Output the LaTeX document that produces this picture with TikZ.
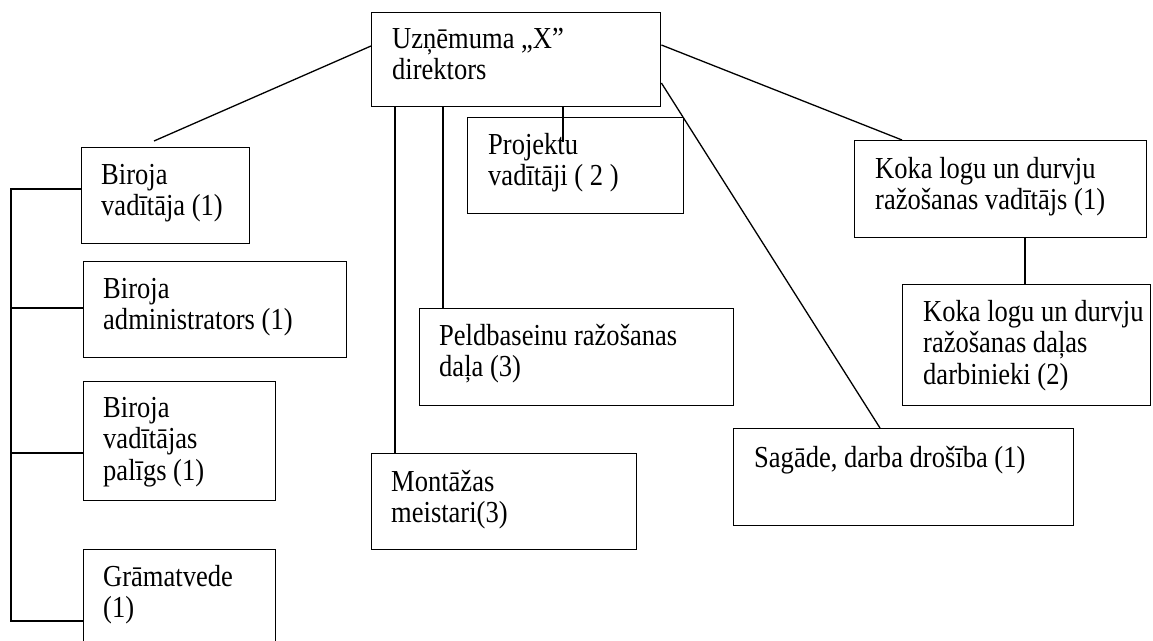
\documentclass[tikz,border=0pt]{standalone}
\usepackage{fontspec}
\setmainfont{Liberation Serif}[FakeStretch=0.87]
\usetikzlibrary{calc}
\begin{document}
\begin{tikzpicture}[x=1pt,y=-1pt,
  box/.style={draw, line width=1.4pt, rectangle, inner sep=0pt, anchor=north west},
  lbl/.style={anchor=north west, align=left, inner sep=0pt, font=\fontsize{30.5}{31.5}\selectfont},
  link/.style={line width=1.3pt}]
\clip (0,0) rectangle (1153,640);
\fill[white] (0,0) rectangle (1153,640);
% boxes
\node[box, minimum width=289, minimum height=94] (dir) at (371,12) {};
\node[box, minimum width=168, minimum height=96] (bv) at (81,147) {};
\node[box, minimum width=263, minimum height=96] (ba) at (83,261) {};
\node[box, minimum width=192, minimum height=119] (bp) at (83,381) {};
\node[box, minimum width=192, minimum height=110] (gr) at (83,549) {};
\node[box, minimum width=216, minimum height=96] (pv) at (467,117) {};
\node[box, minimum width=314, minimum height=97] (pb) at (419,308) {};
\node[box, minimum width=265, minimum height=96] (mm) at (371,453) {};
\node[box, minimum width=292, minimum height=97] (kv) at (854,140) {};
\node[box, minimum width=248, minimum height=121] (kd) at (902,284) {};
\node[box, minimum width=340, minimum height=97] (sd) at (733,428) {};
% texts
\node[lbl] (dirT) at ($(dir.north west)+(21,16)$) {Uzņēmuma „X”\\direktors};
\node[lbl] (bvT) at ($(bv.north west)+(20,17)$) {Biroja\\vadītāja (1)};
\node[lbl] (baT) at ($(ba.north west)+(20,17)$) {Biroja\\administrators (1)};
\node[lbl] (bpT) at ($(bp.north west)+(20,16)$) {Biroja\\vadītājas\\palīgs (1)};
\node[lbl] (grT) at ($(gr.north west)+(20,16)$) {Grāmatvede\\(1)};
\node[lbl] (pvT) at ($(pv.north west)+(21,16)$) {Projektu\\vadītāji ( 2 )};
\node[lbl] (pbT) at ($(pb.north west)+(20,16)$) {Peldbaseinu ražošanas\\daļa (3)};
\node[lbl] (mmT) at ($(mm.north west)+(20,17)$) {Montāžas\\meistari(3)};
\node[lbl] (kvT) at ($(kv.north west)+(21,17)$) {Koka logu un durvju\\ražošanas vadītājs (1)};
\node[lbl] (kdT) at ($(kd.north west)+(21,16)$) {Koka logu un durvju\\ražošanas daļas\\darbinieki (2)};
\node[lbl] (sdT) at ($(sd.north west)+(21,18)$) {Sagāde, darba drošība (1)};
% connectors
\coordinate (bvEnd) at (154,141);
\coordinate (busTop) at (11,189);
\coordinate (busBot) at (11,621);
\draw[link] ($(dir.north west)+(0,34)$) -- (bvEnd);
\draw[link] ($(dir.north east)+(0,33)$) -- ($(kv.north west)+(48,0)$);
\draw[link] ($(dir.north east)+(0,71)$) -- ($(sd.north west)+(147,0)$);
\draw[link] ($(dir.south west)+(24,0)$) -- ($(mm.north west)+(24,0)$);
\draw[link] ($(dir.south west)+(72,0)$) -- ($(pb.north west)+(24,0)$);
\draw[link] ($(dir.south west)+(192,0)$) -- ($(pv.north west)+(96,25)$);
\draw[link] ($(kv.south west)+(171,0)$) -- ($(kd.north west)+(123,0)$);
\draw[link] ($(bv.north west)+(0,42)$) -- (busTop) -- (busBot) -- ($(gr.north west)+(0,72)$);
\draw[link] ($(ba.north west)+(0,47)$) coordinate (s2) -- (s2 -| busTop);
\draw[link] ($(bp.north west)+(0,72)$) coordinate (s3) -- (s3 -| busTop);
\end{tikzpicture}
\end{document}
